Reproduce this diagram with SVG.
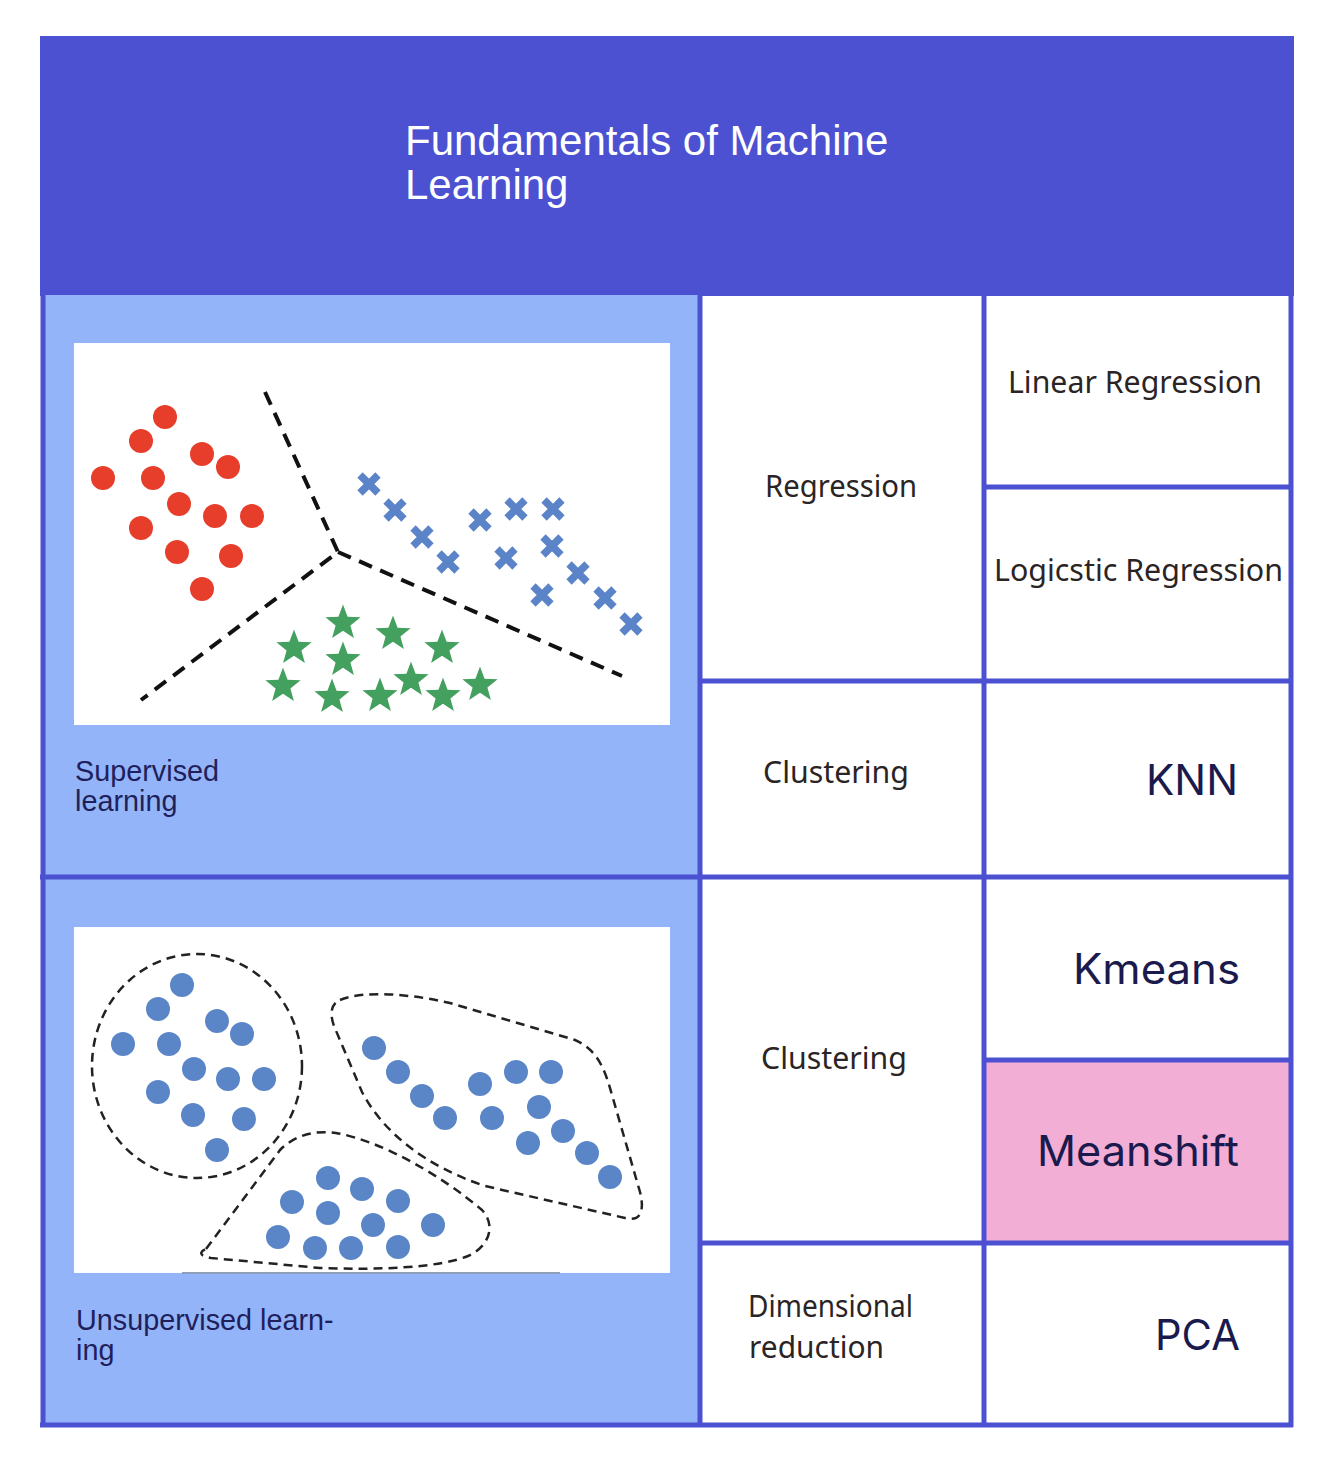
<svg xmlns="http://www.w3.org/2000/svg" xmlns:xlink="http://www.w3.org/1999/xlink" width="1322" height="1466" viewBox="0 0 1322 1466">
  <style>
    .grid { stroke: #4B51D1; stroke-width: 5; fill: none; }
    .title { font-family: "Liberation Sans", Arial, sans-serif; font-size: 42px; fill: #ffffff; }
    .panel-label { font-family: "Liberation Sans", Arial, sans-serif; font-size: 28.8px; fill: #1F1F5C; }
    .cat { font-family: "Noto Sans", "DejaVu Sans", sans-serif; font-size: 31px; fill: #2B2424; }
    .algo { font-family: "Inter", "Noto Sans", sans-serif; font-size: 42px; fill: #1A1A4E; }
    .boundary { stroke: #111111; stroke-width: 4; stroke-dasharray: 14 9; fill: none; }
    .hull { stroke: #222222; stroke-width: 2.5; stroke-dasharray: 9 6; fill: none; }
    .red { fill: #E63E2A; }
    .dot { fill: #5A86C8; }
    .star { fill: #44A05E; }
  </style>
  <defs>
    <path id="star" d="M0,-18.5 L4.6,-6.2 L17.6,-5.7 L7.4,2.4 L10.9,15 L0,7.8 L-10.9,15 L-7.4,2.4 L-17.6,-5.7 L-4.6,-6.2 Z"/>
    <path id="cross" d="M-9,-9 L9,9 M9,-9 L-9,9" stroke="#5B84C8" stroke-width="7.5" fill="none"/>
  </defs>

  <rect width="1322" height="1466" fill="#ffffff"/>

  <!-- header -->
  <g id="header">
    <rect x="40" y="36" width="1254" height="260" fill="#4B51D1"/>
    <text class="title" x="405" y="155">Fundamentals of Machine</text>
    <text class="title" x="405" y="199">Learning</text>
  </g>

  <!-- supervised learning panel -->
  <g id="supervised">
    <rect x="43" y="295" width="657" height="582" fill="#93B4F9"/>
    <rect x="74" y="343" width="596" height="382" fill="#ffffff"/>
    <path class="boundary" d="M265,392 L338,552 L141,700 M338,552 L622,676"/>
    <g class="red">
      <circle cx="165" cy="417" r="12"/>
      <circle cx="141" cy="441" r="12"/>
      <circle cx="202" cy="454" r="12"/>
      <circle cx="228" cy="467" r="12"/>
      <circle cx="103" cy="478" r="12"/>
      <circle cx="153" cy="478" r="12"/>
      <circle cx="179" cy="504" r="12"/>
      <circle cx="215" cy="516" r="12"/>
      <circle cx="252" cy="516" r="12"/>
      <circle cx="141" cy="528" r="12"/>
      <circle cx="177" cy="552" r="12"/>
      <circle cx="231" cy="556" r="12"/>
      <circle cx="202" cy="589" r="12"/>
    </g>
    <g>
      <use xlink:href="#cross" x="369" y="484"/>
      <use xlink:href="#cross" x="395" y="510"/>
      <use xlink:href="#cross" x="422" y="537"/>
      <use xlink:href="#cross" x="448" y="562"/>
      <use xlink:href="#cross" x="480" y="520"/>
      <use xlink:href="#cross" x="516" y="509"/>
      <use xlink:href="#cross" x="553" y="509"/>
      <use xlink:href="#cross" x="506" y="558"/>
      <use xlink:href="#cross" x="552" y="546"/>
      <use xlink:href="#cross" x="578" y="573"/>
      <use xlink:href="#cross" x="542" y="595"/>
      <use xlink:href="#cross" x="605" y="598"/>
      <use xlink:href="#cross" x="631" y="624"/>
    </g>
    <g class="star">
      <use xlink:href="#star" x="343" y="623"/>
      <use xlink:href="#star" x="393" y="634"/>
      <use xlink:href="#star" x="442" y="648"/>
      <use xlink:href="#star" x="294" y="648"/>
      <use xlink:href="#star" x="343" y="660"/>
      <use xlink:href="#star" x="283" y="686"/>
      <use xlink:href="#star" x="332" y="697"/>
      <use xlink:href="#star" x="380" y="696"/>
      <use xlink:href="#star" x="411" y="680"/>
      <use xlink:href="#star" x="443" y="696"/>
      <use xlink:href="#star" x="480" y="685"/>
    </g>
    <text class="panel-label" x="75" y="781">Supervised</text>
    <text class="panel-label" x="75" y="811">learning</text>
  </g>

  <!-- unsupervised learning panel -->
  <g id="unsupervised">
    <rect x="43" y="877" width="657" height="548" fill="#93B4F9"/>
    <rect x="74" y="927" width="596" height="346" fill="#ffffff"/>
    <line x1="182" y1="1273" x2="560" y2="1273" stroke="#8E9DBA" stroke-width="2"/>
    <ellipse class="hull" cx="197" cy="1066" rx="105" ry="112"/>
    <path class="hull" d="M340,1000 C365,990 410,994 450,1003 L575,1040 C598,1050 605,1070 612,1095 L640,1192 C645,1212 640,1222 625,1218 L485,1186 C425,1166 383,1132 362,1092 L334,1026 C329,1012 332,1003 340,1000 Z"/>
    <path class="hull" d="M206,1249 L280,1150 C295,1135 315,1130 336,1133 C382,1141 442,1176 482,1210 C496,1225 490,1246 468,1256 C438,1268 380,1270 320,1268 L211,1258 C199,1256 199,1252 206,1249 Z"/>
    <g class="dot">
      <circle cx="182" cy="985" r="12"/>
      <circle cx="158" cy="1009" r="12"/>
      <circle cx="217" cy="1021" r="12"/>
      <circle cx="242" cy="1034" r="12"/>
      <circle cx="123" cy="1044" r="12"/>
      <circle cx="169" cy="1044" r="12"/>
      <circle cx="194" cy="1069" r="12"/>
      <circle cx="228" cy="1079" r="12"/>
      <circle cx="264" cy="1079" r="12"/>
      <circle cx="158" cy="1092" r="12"/>
      <circle cx="193" cy="1115" r="12"/>
      <circle cx="244" cy="1119" r="12"/>
      <circle cx="217" cy="1150" r="12"/>

      <circle cx="374" cy="1048" r="12"/>
      <circle cx="398" cy="1072" r="12"/>
      <circle cx="422" cy="1096" r="12"/>
      <circle cx="445" cy="1118" r="12"/>
      <circle cx="480" cy="1084" r="12"/>
      <circle cx="516" cy="1072" r="12"/>
      <circle cx="551" cy="1072" r="12"/>
      <circle cx="492" cy="1118" r="12"/>
      <circle cx="539" cy="1107" r="12"/>
      <circle cx="563" cy="1131" r="12"/>
      <circle cx="528" cy="1143" r="12"/>
      <circle cx="587" cy="1153" r="12"/>
      <circle cx="610" cy="1177" r="12"/>

      <circle cx="328" cy="1178" r="12"/>
      <circle cx="362" cy="1189" r="12"/>
      <circle cx="398" cy="1201" r="12"/>
      <circle cx="292" cy="1202" r="12"/>
      <circle cx="328" cy="1213" r="12"/>
      <circle cx="373" cy="1225" r="12"/>
      <circle cx="433" cy="1225" r="12"/>
      <circle cx="278" cy="1237" r="12"/>
      <circle cx="315" cy="1248" r="12"/>
      <circle cx="351" cy="1248" r="12"/>
      <circle cx="398" cy="1247" r="12"/>
    </g>
    <text class="panel-label" x="76" y="1330">Unsupervised learn-</text>
    <text class="panel-label" x="76" y="1360">ing</text>
  </g>

  <!-- pink highlighted cell -->
  <rect id="meanshift-bg" x="984" y="1059" width="307" height="183" fill="#F2AED5"/>

  <!-- table grid -->
  <g id="grid" class="grid">
    <line x1="43" y1="295" x2="43" y2="1427"/>
    <line x1="700" y1="295" x2="700" y2="1427"/>
    <line x1="984" y1="295" x2="984" y2="1427"/>
    <line x1="1291" y1="295" x2="1291" y2="1427"/>
    <line x1="984" y1="487" x2="1291" y2="487"/>
    <line x1="700" y1="681" x2="1291" y2="681"/>
    <line x1="40" y1="877" x2="1293" y2="877"/>
    <line x1="984" y1="1060" x2="1291" y2="1060"/>
    <line x1="700" y1="1243" x2="1291" y2="1243"/>
    <line x1="40" y1="1425" x2="1293" y2="1425"/>
  </g>

  <!-- category cells -->
  <g id="regression"><text class="cat" x="765" y="497" textLength="152" lengthAdjust="spacingAndGlyphs">Regression</text></g>
  <g id="clustering-supervised"><text class="cat" x="763" y="783" textLength="146" lengthAdjust="spacingAndGlyphs">Clustering</text></g>
  <g id="clustering-unsupervised"><text class="cat" x="761" y="1069" textLength="146" lengthAdjust="spacingAndGlyphs">Clustering</text></g>
  <g id="dimensional-reduction">
    <text class="cat" x="748" y="1317" textLength="165" lengthAdjust="spacingAndGlyphs">Dimensional</text>
    <text class="cat" x="749" y="1358" textLength="135" lengthAdjust="spacingAndGlyphs">reduction</text>
  </g>

  <!-- algorithm cells -->
  <g id="linear-regression"><text class="cat" x="1008" y="393" textLength="254" lengthAdjust="spacingAndGlyphs">Linear Regression</text></g>
  <g id="logistic-regression"><text class="cat" x="994" y="581" textLength="289" lengthAdjust="spacingAndGlyphs">Logicstic Regression</text></g>
  <g id="knn"><text class="algo" x="1146" y="795" textLength="92" lengthAdjust="spacingAndGlyphs">KNN</text></g>
  <g id="kmeans"><text class="algo" x="1073" y="984" textLength="167" lengthAdjust="spacingAndGlyphs">Kmeans</text></g>
  <g id="meanshift"><text class="algo" x="1037" y="1166" textLength="202" lengthAdjust="spacingAndGlyphs">Meanshift</text></g>
  <g id="pca"><text class="algo" x="1155" y="1350" textLength="85" lengthAdjust="spacingAndGlyphs">PCA</text></g>
</svg>
